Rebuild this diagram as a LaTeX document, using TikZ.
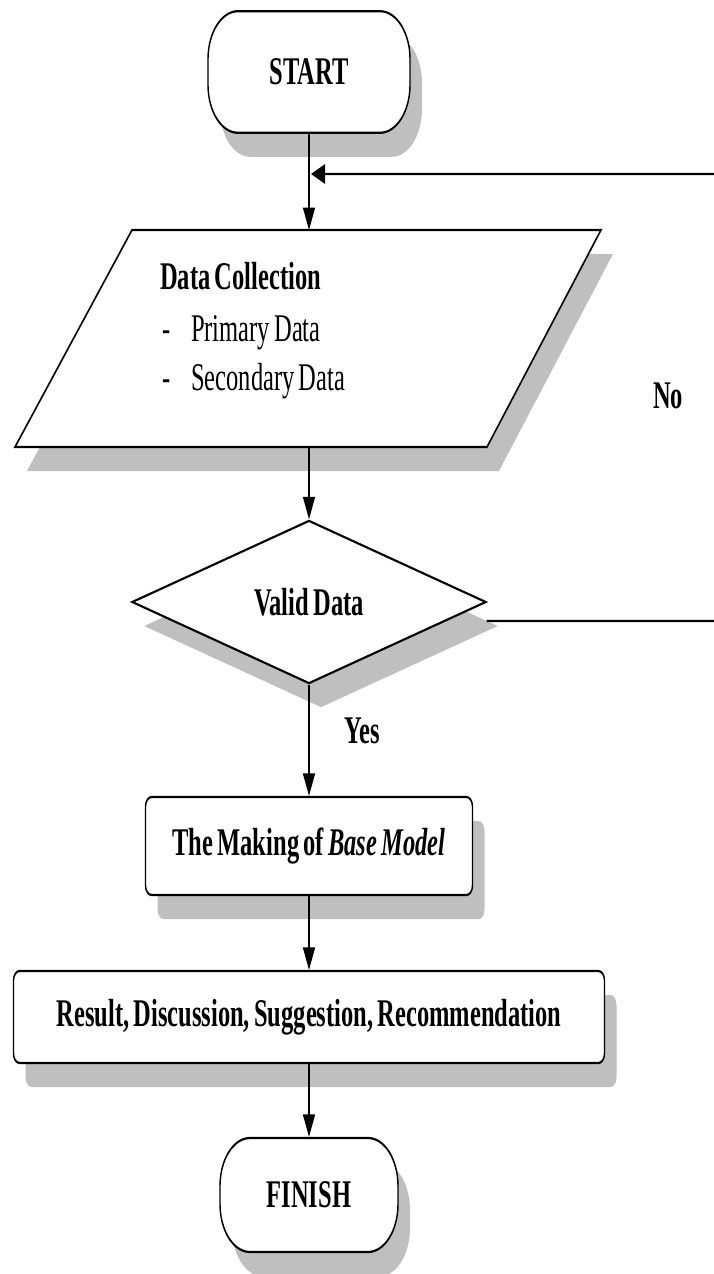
\documentclass[tikz,border=0pt]{standalone}
\usepackage{fontspec}
\setmainfont{Liberation Serif}[WordSpace=0.7]
\usetikzlibrary{shapes.geometric,shadows,arrows.meta}
\begin{document}
\begin{tikzpicture}
\useasboundingbox (0pt,0pt) rectangle (713pt,-1274pt);
\begin{scope}[transform canvas={yscale=1.6}, x=1pt, y=-0.625pt,
  txt/.style={font=\fontsize{24.5}{28}\selectfont\bfseries},
  reg/.style={font=\fontsize{24.5}{28}\selectfont,inner sep=0pt,anchor=base west},
  shad/.style={drop shadow={shadow xshift=12pt,shadow yshift=-15pt,fill=gray!50,opacity=1}},
  outline/.style={draw,fill=white,line width=1.4pt,shad},
  base/.style={outline,txt,inner sep=0pt},
  term/.style={base,rectangle,rounded corners=30pt,minimum width=202pt,minimum height=76pt},
  proc/.style={base,rectangle,rounded corners=6pt},
  arr/.style={line width=1.4pt,-{Triangle[length=14pt,width=12pt]}}
]
\node[term] (start) at (309,72) {START};
\path[outline] (132,230) -- (601,230) -- (487,447) -- (15,447) -- cycle;
\coordinate (dctop) at (309,230);
\coordinate (dcbot) at (309,447);
\node[txt,anchor=base west,inner sep=0pt] (dct) at (160,289) {Data Collection};
\node[reg] (d1) at (162,341) {-};
\node[reg] (p1) at (191,341) {Primary Data};
\node[reg] (d2) at (162,390) {-};
\node[reg] (p2) at (191,390) {Secondary Data};
\node[base,diamond,aspect=3.47,minimum width=354pt,minimum height=102pt] (dv) at (309,602) {Valid Data};
\node[proc,minimum width=327pt,minimum height=61.25pt] (bm) at (309,846) {The Making of \textit{Base Model}};
\node[proc,minimum width=591pt,minimum height=57.5pt] (res) at (309,1017) {Result, Discussion, Suggestion, Recommendation};
\node[term,minimum width=178pt,minimum height=71.25pt] (fin) at (309,1195) {FINISH};
\node[txt] (no) at (668,396) {No};
\node[txt] (yes) at (362,731) {Yes};
\coordinate (loopin) at (311,174);
\coordinate (r1) at (725,621);
\coordinate (r2) at (725,174);
\draw[arr] (start) -- (dctop);
\draw[arr] (dcbot) -- (dv.north);
\draw[arr] (dv.south) -- (bm.north);
\draw[arr] (bm.south) -- (res.north);
\draw[arr] (res.south) -- (fin.north);
\draw[arr] ([yshift=-11.9pt]dv.east) -- (r1) -- (r2) -- (loopin);
\end{scope}
\end{tikzpicture}
\end{document}
